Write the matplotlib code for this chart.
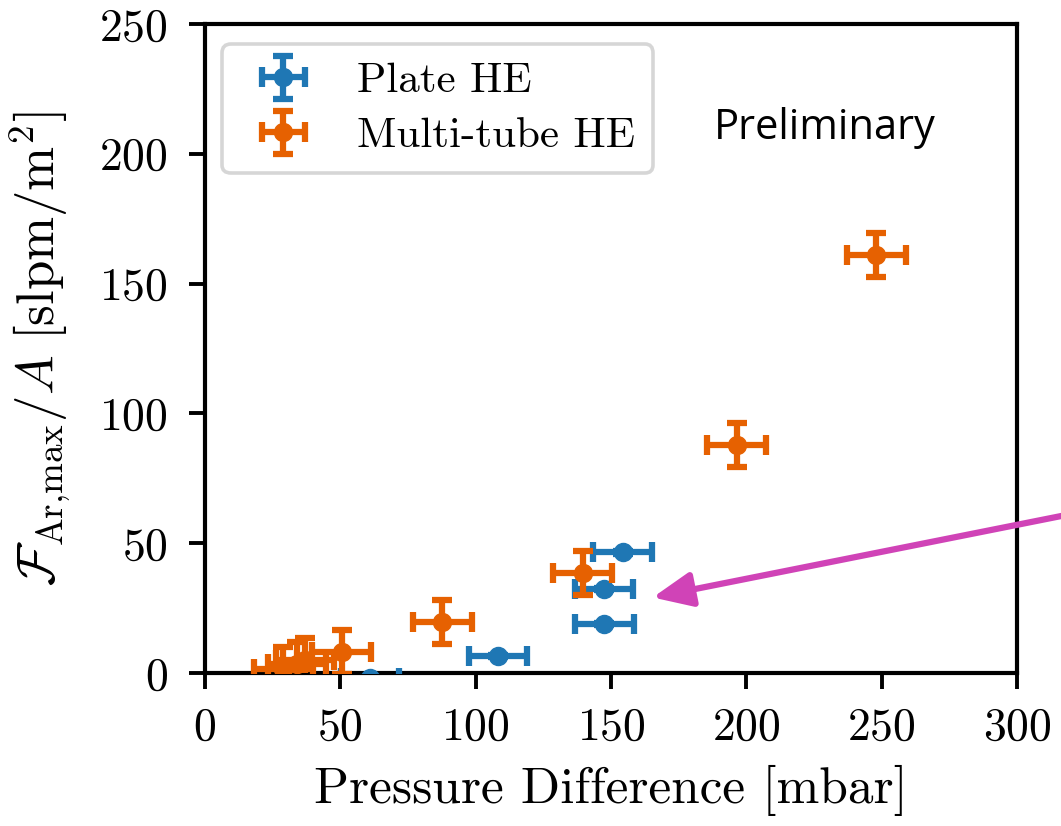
import matplotlib
matplotlib.use("Agg")
import matplotlib.pyplot as plt
from matplotlib.legend_handler import HandlerErrorbar
from matplotlib.container import ErrorbarContainer
import numpy as np

# Plate heat exchanger measurements
plate_dp = [61.0, 108.3, 147.6, 147.4, 154.3]
plate_flux = [-2.0, 6.5, 18.9, 32.4, 46.5]
plate_dp_err = [10.8, 10.8, 10.8, 10.8, 10.8]
plate_flux_err = [0.5, 0.5, 0.5, 0.5, 0.5]

# Multi-tube heat exchanger measurements
tube_dp = [29.0, 34.0, 37.0, 50.5, 87.7, 139.5, 196.4, 248.1]
tube_flux = [1.5, 3.5, 5.0, 8.2, 19.5, 38.4, 87.8, 161.0]
tube_dp_err = [10.8, 10.8, 10.8, 10.8, 10.8, 10.8, 10.8, 10.8]
tube_flux_err = [8.5, 8.5, 8.5, 8.5, 8.5, 8.5, 8.5, 8.5]

x_ticks = [0, 50, 100, 150, 200, 250, 300]
y_ticks = [0, 50, 100, 150, 200, 250]

plt.rcParams["font.family"] = ["cmr10", "DejaVu Serif"]
plt.rcParams["mathtext.fontset"] = "cm"
plt.rcParams["axes.formatter.use_mathtext"] = True

fig = plt.figure(figsize=(10.61, 8.26), dpi=100)
ax = fig.add_axes([0.1932, 0.1852, 0.9585 - 0.1932, 0.9709 - 0.1852])

blue = "#1f77b4"
orange = "#e66101"
err_kw = dict(fmt="o", markersize=13, elinewidth=4.5, capsize=7.5, capthick=4.5)

ax.errorbar(plate_dp, plate_flux, xerr=plate_dp_err, yerr=plate_flux_err,
            color=blue, label="Plate HE", zorder=3, **err_kw)
ax.errorbar(tube_dp, tube_flux, xerr=tube_dp_err, yerr=tube_flux_err,
            color=orange, label="Multi-tube HE", zorder=4, **err_kw)

ax.set_xlim(0, 300)
ax.set_ylim(0, 250)
ax.set_xticks(x_ticks)
ax.set_yticks(y_ticks)
ax.tick_params(labelsize=33, width=2.8, length=11.5)
ax.tick_params(axis="y", pad=15)
ax.tick_params(axis="x", pad=13)
for s in ax.spines.values():
    s.set_linewidth(3.0)

ax.set_xlabel("Pressure Difference [mbar]", fontsize=37, labelpad=12)
ax.set_ylabel(r"$\mathcal{F}_{\mathrm{Ar{,}max}}/A\ [\mathrm{slpm/m^2}]$",
              fontsize=38, labelpad=19)

leg = ax.legend(loc="upper left", fontsize=31, frameon=True, fancybox=True,
                borderpad=0.42, handletextpad=0.72, handlelength=2.0,
                labelspacing=0.39, borderaxespad=0.0,
                bbox_to_anchor=(0.021, 0.969),
                handler_map={ErrorbarContainer: HandlerErrorbar(xerr_size=0.5)})
leg.get_frame().set_edgecolor("#cccccc")
leg.get_frame().set_linewidth(2.6)

ax.text(0.763, 0.84, "Preliminary", transform=ax.transAxes,
        fontsize=30, family="Open Sans", ha="center", va="center")

# Pointer arrow entering from the right edge of the figure
fig.patches.append(matplotlib.patches.FancyArrowPatch(
    (1.005, 1 - 515 / 826), (650 / 1061, 1 - 598 / 826),
    transform=fig.transFigure, arrowstyle="-|>,head_length=1.7,head_width=0.75",
    mutation_scale=14, color="#d043b7", linewidth=4.5, zorder=10))

fig.savefig("out.png", dpi=100)
